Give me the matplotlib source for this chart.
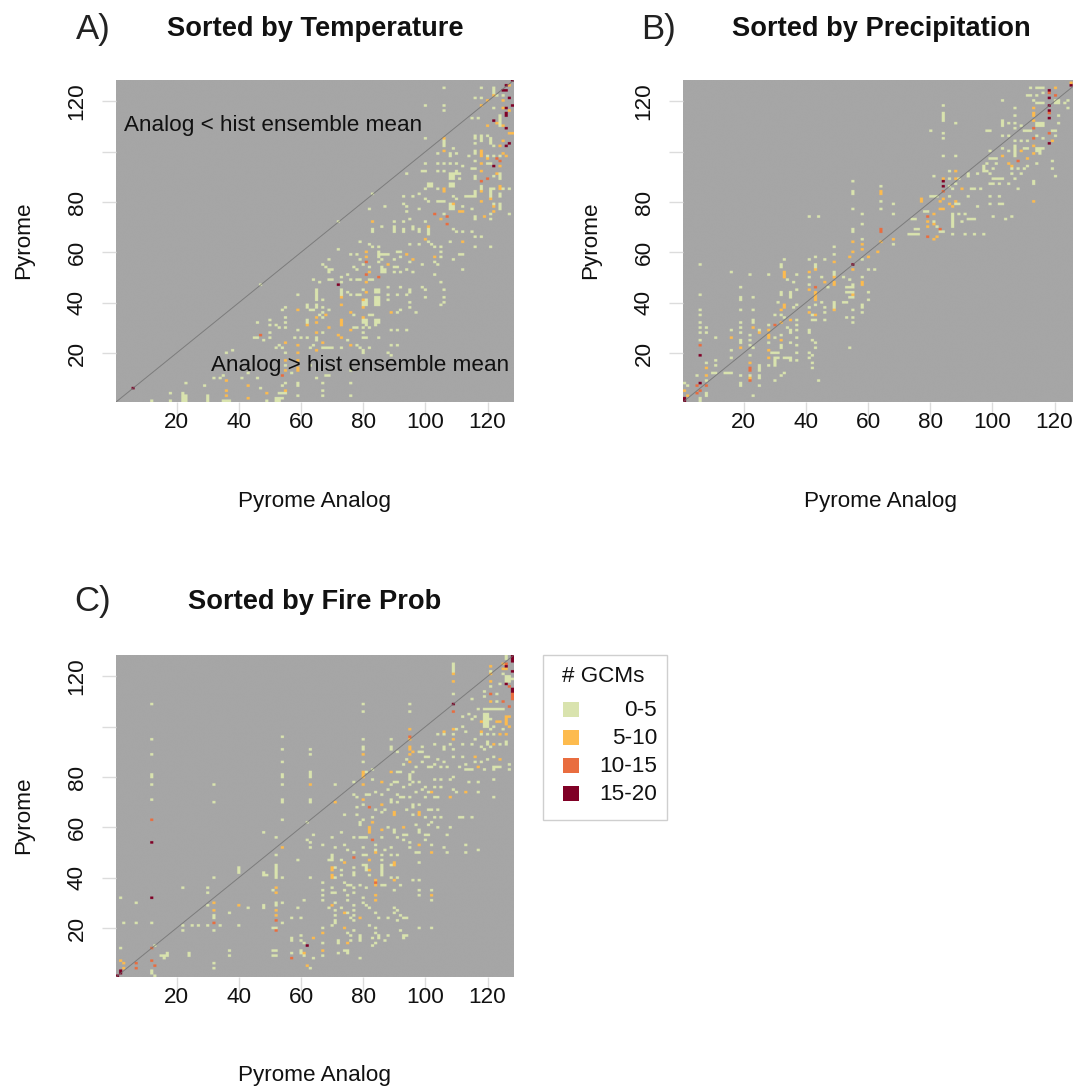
import numpy as np
import matplotlib
matplotlib.use("Agg")
import matplotlib.pyplot as plt
from matplotlib.colors import ListedColormap
from matplotlib.patches import Rectangle

plt.rcParams['font.family'] = ['Liberation Sans', 'DejaVu Sans']

# cells are (pyrome analog, pyrome), one list per class of # GCMs
a_pale = [(106,125),(118,125),(122,125),(122,124),(122,123),(123,122),(125,122),(116,121),(118,121),(100,118),(106,118),(106,116),
    (122,117),(124,114),(124,113),(124,112),(124,111),(124,110),(115,113),(117,113),(116,106),(116,105),(118,106),(118,105),(118,104),
    (120,106),(106,104),(106,103),(106,102),(100,105),(121,105),(121,104),(121,103),(122,102),(116,103),(109,101),(104,99),(108,99),
    (108,98),(110,99),(114,98),(116,100),(116,99),(120,98),(122,98),(124,98),(100,95),(104,95),(106,95),(108,95),(110,95),(112,94),
    (116,96),(120,95),(121,95),(99,92),(100,92),(104,92),(106,92),(94,91),(108,91),(109,91),(108,90),(109,90),(108,89),(109,89),(110,91),
    (111,91),(110,92),(115,93),(116,93),(124,91),(124,90),(124,89),(122,90),(116,90),(116,89),(111,89),(101,87),(102,87),(101,86),(102,86),
    (100,85),(104,85),(108,87),(109,87),(108,86),(109,86),(122,85),(116,84),(116,83),(116,82),(118,86),(118,85),(121,85),(121,84),(121,83),
    (121,82),(125,85),(127,85),(124,83),(124,82),(98,83),(96,82),(93,82),(83,83),(100,81),(101,80),(104,80),(105,80),(106,80),(109,82),
    (113,82),(114,82),(115,82),(110,81),(122,79),(124,79),(124,78),(124,77),(93,79),(94,78),(94,76),(87,78),(82,77),(98,77),(108,79),
    (108,78),(109,78),(108,77),(109,77),(112,78),(115,77),(127,75),(121,75),(106,75),(116,74),(116,73),(121,73),(72,72),(90,72),(95,73),
    (93,72),(100,72),(86,70),(83,69),(83,68),(90,70),(90,69),(90,68),(93,69),(93,68),(96,70),(96,69),(98,69),(98,68),(101,70),(101,69),
    (101,68),(101,67),(109,69),(110,68),(112,68),(115,68),(116,66),(118,66),
    (79,64),(82,63),(83,62),(85,62),(85,59),(86,59),(87,59),(88,59),(91,60),(92,60),(95,63),(98,63),(101,64),(102,63),(103,62),(105,62),
    (105,60),(105,58),(109,57),(111,59),(112,59),(116,62),(121,62),(108,64),(72,61),(76,59),(78,59),(79,57),(85,60),(85,58),(85,56),(86,57),
    (90,57),(92,58),(95,56),(99,55),(103,56),(104,55),(67,55),(69,57),(68,54),(69,53),(69,52),(70,53),(77,54),(78,53),(80,55),(82,54),
    (86,54),(87,53),(86,53),(86,52),(87,52),(90,54),(91,54),(90,52),(94,53),(92,52),(96,52),(103,51),(112,53),(75,51),(73,50),(64,49),(66,48),
    (69,49),(70,49),(73,48),(76,49),(78,49),(79,49),(82,49),(83,49),(88,46),(92,46),(99,46),(100,45),(105,48),(106,45),(65,45),(65,44),
    (73,45),(73,44),(73,43),(75,44),(76,43),(78,43),(79,43),(80,45),(84,45),(85,45),(84,44),(85,44),(88,43),(91,43),(94,43),(95,45),(95,44),
    (100,42),(106,42),(80,40),(81,40),(81,41),(80,39),(81,39),(84,42),(85,42),(84,41),(85,41),(84,40),(85,40),(85,39),(84,39),(88,41),(67,41),
    (65,41),(62,39),(65,39),(67,38),(92,37),(91,36),(95,40),(95,38),(97,36),(106,40),(105,39),(63,37),(64,37),(65,38),(69,37),(67,36),(77,35),
    (67,34),(62,33),(62,32),(80,33),(81,33),(80,32),(81,32),(81,31),(84,33),(85,33),(84,32),(85,32),(84,31),(82,35),(83,35),(77,30),(78,30),
    (80,30),(82,30),(80,28),(89,29),(91,29),(94,29),(67,28),(62,26),(60,26),(65,26),(65,25),(75,25),(80,26),(81,26),(85,26),(78,23),(79,22),
    (80,21),(80,20),(82,22),(73,22),(67,22),(69,22),(70,22),(88,20),(89,19),(89,23),(91,23),(76,13),(68,11),(69,11),(67,8),(65,10),(67,5),
    (67,3),(76,8),(76,3),
    (12,1),(18,4),(18,1),(22,4),(22,3),(23,3),(22,2),(23,2),(22,1),(23,1),(30,3),(30,2),(30,1),(29,7),(23,8),(36,20),(38,21),(32,10),(34,10),
    (35,11),(35,1),(36,1),(37,1),(41,10),(43,12),(46,10),(47,6),(47,47),(49,1),(46,32),(50,33),(50,31),(52,31),(53,30),(55,30),(54,37),(55,38),
    (55,34),(55,32),(50,28),(45,26),(46,26),(48,25),(50,26),(52,22),(53,23),(54,22),(55,20),(55,15),(55,8),(54,7),(52,2),(53,2),(54,2),(52,1),
    (53,1),(53,4),(54,4),(55,4),(59,43),(57,12),(59,8),(59,7),(59,3),(63,15),(63,22),(64,23),(68,22),(66,48),(64,49),(58,26),(59,29),(63,37),
    (64,37),(65,43),(65,42),(62,38),(66,35)]
a_orange = [(127,126),(122,122),(120,120),(125,120),(118,118),(125,117),(127,116),(123,111),(120,110),(125,110),(127,107),(128,107),
    (106,105),(125,104),(124,102),(106,100),(118,100),(118,99),(118,98),(125,99),(126,98),(120,97),(118,95),(124,94),(118,92),(123,91),
    (106,85),(106,84),(124,86),(124,85),(118,84),(109,79),(118,80),(121,81),(122,78),(111,76),(112,76),(122,76),(119,74),(105,73),(83,72),
    (101,70),(103,58),(81,60),(88,55),(94,59),(96,57),(81,58),(100,65),(112,64),(82,52),(81,48),(81,44),(73,42),(80,41),(73,39),(80,38),(89,36),
    (76,36),(68,35),(65,34),(65,32),(73,33),(73,32),(73,31),(62,31),(80,34),(69,30),(65,28),(76,29),(72,27),(73,26),(67,24),(76,23),(65,21),
    (36,9),(36,5),(36,3),(43,7),(43,2),(49,4),(55,24),(55,17),(55,13),(55,5),(59,37),(59,23),(59,20),(59,17),(59,14),(59,13),(65,34)]
a_red = [(103,75),(107,74),(107,71),(123,97),(124,96),(120,89),(118,88),(81,56),(81,51),(85,50),(47,27),(54,11)]
a_dark = [(128,128),(126,126),(125,124),(126,124),(127,121),(128,118),(126,117),(126,115),(126,114),(122,112),(126,109),(127,103),(126,102),
    (122,94),(72,47),(6,6)]

b_pale = [(55,88),(55,84),(55,83),(55,77),(58,75),(58,71),(55,69),(55,68),(58,65),(64,86),(64,80),(64,77),(41,74),(44,74),
    (1,8),(2,7),(5,11),(6,55),(6,43),(6,37),(6,35),(6,32),(6,30),(6,28),(6,25),(6,2),(6,1),(8,30),(8,28),(8,16),(8,9),(8,4),(8,3),(11,26),(11,17),
    (11,15),(10,12),(11,12),(14,12),(15,12),(16,12),(16,52),(16,29),(16,21),(16,18),(19,46),(19,42),(19,41),(19,37),(19,32),(19,30),(19,28),
    (19,25),(19,24),(19,11),(19,8),(19,7),(22,51),(23,42),(23,37),(23,33),(23,32),(22,27),(22,25),(22,23),(23,22),(22,19),(22,11),(23,3),
    (25,29),(25,15),(25,14),(25,13),(25,11),(25,10),(25,7),(28,51),(28,31),(28,24),(28,15),(30,35),(29,20),(30,20),(31,20),(30,18),(30,17),
    (30,16),(30,15),(31,18),(30,9),(32,11),(33,12),(31,40),(32,44),(32,43),(32,35),(33,34),(32,27),(32,23),(32,22),(30,26),(34,30),(35,44),
    (35,43),(35,42),(36,38),(37,39),(35,29),(35,28),(37,33),(37,31),(37,29),(37,26),(37,23),(35,24),(37,20),(37,17),(35,17),(33,18),(34,18),
    (35,18),(32,55),(32,54),(33,57),(34,49),(37,51),(36,48),(37,45),(41,57),(43,58),(43,55),(43,54),(41,50),(41,47),(41,38),(43,39),(45,40),
    (46,38),(46,36),(42,35),(42,33),(43,33),(46,33),(41,29),(41,28),(42,25),(43,24),(43,22),(41,20),(42,19),(41,18),(42,16),(42,14),(44,9),
    (45,50),(46,57),(49,62),(49,59),(49,52),(49,51),(47,46),(49,40),(49,39),(49,38),(52,50),(54,49),(55,47),(53,46),(54,46),(55,46),(53,44),
    (54,44),(55,44),(54,42),(55,42),(52,40),(53,40),(53,34),(55,37),(55,34),(55,32),(54,22),(58,63),(58,57),(58,50),(60,53),(62,53),(60,44),
    (60,41),(58,39),(58,38),(58,36),
    (114,125),(115,125),(112,125),(116,125),(111,122),(112,122),(113,120),(114,122),(116,123),(114,119),(115,119),(116,119),(120,120),(121,120),
    (120,119),(121,119),(123,119),(124,120),(124,117),(121,114),(114,111),(115,111),(116,111),(114,110),(115,110),(116,110),(121,111),(110,108),
    (111,108),(112,108),(114,106),(116,105),(119,108),(120,108),(120,106),(103,120),(107,117),(107,114),(103,112),(103,111),(103,110),(105,111),
    (107,111),(107,109),(109,110),(98,108),(99,108),(103,106),(105,106),(107,104),(109,104),(111,104),(110,101),(111,101),(114,101),(115,101),
    (114,100),(115,100),(116,101),(115,99),(107,102),(107,101),(107,100),(105,100),(103,101),(99,100),(107,99),(107,98),(100,97),(101,97),(99,97),
    (114,95),(119,96),(119,93),(120,90),(98,95),(101,95),(97,94),(97,93),(97,92),(98,92),(100,93),(99,91),(106,93),(106,91),(108,93),(110,93),
    (111,94),(113,88),(113,87),(109,91),(107,89),(103,89),(100,89),(101,89),(102,89),(99,87),(100,87),(102,87),(105,87),(95,91),(92,91),(92,90),
    (93,85),(94,85),(96,85),(108,85),(89,89),(88,87),(86,92),(86,89),(86,86),(87,85),(81,90),(84,118),(84,115),(84,114),(84,113),(84,112),
    (88,111),(80,108),(84,107),(84,105),(84,98),(88,98),
    (80,82),(81,82),(82,82),(86,82),(88,79),(89,79),(92,82),(99,82),(102,82),(103,79),(102,79),(99,79),(113,80),(95,78),(78,76),(79,76),(68,79),
    (64,80),(64,77),(68,75),(64,86),(89,75),(87,75),(87,74),(87,73),(87,72),(87,71),(87,70),(91,75),(90,72),(92,73),(93,73),(94,73),(74,73),
    (75,73),(81,72),(82,70),(83,68),(84,68),(75,69),(76,69),(76,67),(73,67),(74,67),(75,67),(100,74),(104,73),(106,74),(87,67),(91,67),(94,67),
    (97,67),(68,63)]
b_orange = [(55,64),(58,63),(64,84),(1,5),(2,3),(8,14),(8,11),(16,26),(19,22),(23,30),(25,28),(22,16),(22,10),(28,29),(28,27),(28,26),(28,21),(28,18),
    (33,39),(33,38),(32,37),(32,32),(32,25),(35,33),(33,52),(33,51),(33,50),(43,53),(41,52),(41,45),(43,44),(43,43),(43,42),(43,41),(41,36),(43,35),
    (46,48),(49,56),(49,50),(49,48),(49,47),(49,37),(55,64),(55,60),(54,58),(55,53),(55,43),(58,61),(60,58),(58,48),(58,47),(63,60),
    (125,127),(120,125),(113,117),(113,115),(113,114),(113,112),(119,104),(113,102),(113,99),(109,100),(103,98),(105,95),(106,94),(111,97),
    (90,85),(88,92),(88,89),(84,89),(77,81),(77,80),(84,81),(83,80),(88,80),(86,79),(87,78),(83,77),(84,77),(113,80),(81,75),(79,72),(79,70),(81,71),
    (81,65),(82,66),(64,64),(68,65),(64,83)]
b_red = [(6,23),(6,5),(5,7),(5,4),(8,7),(22,14),(22,13),(22,9),(30,31),(43,46),(118,123),(120,122),(118,115),(118,107),(113,109),(113,105),(108,96),
    (84,84),(79,74),(83,69),(79,66),(64,69),(64,68)]
b_dark = [(1,2),(1,1),(6,19),(6,8),(55,55),(125,126),(118,124),(118,121),(118,118),(118,116),(118,113),(118,103),(84,88),(84,86)]

c_pale = [(12,109),(12,95),(12,89),(12,81),(12,80),(12,77),(12,71),(32,77),(32,70),(54,96),(54,91),(54,86),(54,81),(54,80),(54,77),(54,71),(54,70),
    (54,63),(63,91),(63,89),(63,82),(63,81),(63,80),(63,71),(63,70),
    (109,125),(109,124),(109,123),(109,122),(109,113),(106,97),(109,97),(108,93),(109,91),(106,92),(106,91),(103,93),(104,97),(110,99),(112,104),
    (112,100),(112,93),(113,98),(114,105),(115,111),(115,103),(116,104),(117,107),(118,102),(116,95),(115,93),(118,92),(119,114),(119,112),(121,122),
    (121,116),(123,113),(124,117),(119,107),(120,107),(121,107),(122,107),(123,107),(124,107),(125,107),(119,105),(120,105),(119,104),(120,104),
    (119,103),(120,103),(119,102),(120,102),(119,101),(120,101),(119,100),(120,100),(121,103),(122,100),(121,99),(125,99),(118,97),(120,97),(122,97),
    (120,94),(120,93),(124,93),(126,94),(126,93),(119,91),(121,92),(123,110),(126,128),(126,127),(128,119),(126,120),(127,120),(126,119),(127,119),
    (126,118),(127,118),(125,121),
    (80,109),(80,106),(95,109),(95,106),(94,87),(93,85),(97,84),(99,92),(98,90),(99,90),(100,88),(101,88),(99,86),(89,95),(89,92),(89,91),(91,90),
    (80,95),(80,92),(80,91),(80,86),(83,83),(81,82),(77,78),(71,77),(83,79),(91,82),(92,82),(90,78),(91,78),(89,77),(95,81),(95,80),(95,79),(96,82),
    (93,76),(95,77),(96,78),(98,78),(100,76),(103,79),(105,79),(108,79),(109,80),(101,84),(102,84),(103,85),(104,87),(105,84),(106,86),(107,84),
    (109,88),(112,88),(111,84),(113,85),(113,83),(114,83),(115,83),(116,86),(118,86),(119,83),(120,87),(122,88),(122,84),(123,84),(124,84),(122,83),
    (127,85),(127,83),(122,79),(114,78),(109,75),(110,74),(117,78),(117,74),(122,72),(99,75),(101,74),(103,72),(104,72),(105,76),(103,76),(100,72),
    (97,74),(81,73),(82,73),(77,73),(78,72),(84,74),(86,73),(88,75),(89,71),(89,70),(91,73),(92,72),(93,72),(95,72),(91,70),(80,69),(78,68),(87,67),
    (84,67),(94,67),(96,69),(96,68),(98,69),(101,67),(102,67),(104,67),(74,65),(78,65),(80,63),(86,66),(96,65),(100,64),(103,64),(105,64),(111,64),
    (112,64),(115,64),
    (2,32),(7,30),(3,22),(7,22),(12,22),(2,12),(13,13),(12,3),(12,2),(13,1),(15,9),(16,9),(16,8),(17,10),(17,9),(22,36),(22,21),(22,19),(24,10),(24,9),
    (25,21),(27,21),(30,36),(30,34),(30,29),(30,21),(32,40),(32,25),(32,24),(32,19),(34,21),(37,26),(37,11),(37,9),(32,6),(32,4),(40,44),(40,43),
    (40,42),(43,28),(40,21),(48,58),(48,42),(48,41),(49,41),(48,29),(48,28),(52,56),(54,63),(52,49),(52,45),(52,44),(52,43),(52,42),(52,41),(52,40),
    (54,40),(51,35),(52,30),(52,29),(54,30),(54,22),(51,20),(52,20),(51,11),(52,11),(51,9),(52,9),(57,24),(60,24),(59,47),(62,62),(64,57),(62,55),
    (63,54),(63,52),(63,40),(61,31),(59,28),(57,16),(57,15),(60,17),(60,15),(61,14),(60,11),(60,10),(57,10),(61,9),(64,8),(63,4),
    (79,62),(79,61),(83,64),(88,60),(90,59),(90,58),(98,59),(98,58),(97,61),(101,61),(102,62),(104,60),(108,60),(107,57),(100,57),(101,57),(93,57),
    (94,57),(79,56),(80,56),(81,56),(77,56),(73,58),(70,56),(86,56),(91,56),(93,55),(100,55),(95,54),(67,53),(71,52),(74,53),(75,51),(80,52),(84,53),
    (84,51),(87,51),(89,52),(86,49),(89,49),(91,49),(95,52),(97,50),(98,50),(102,53),(106,52),(107,50),(113,53),(113,50),(117,51),(77,50),(70,49),
    (70,48),(70,47),(69,47),(73,47),(80,49),(81,49),(86,47),(89,45),(98,46),(71,44),(71,40),(73,43),(73,41),(77,44),(77,42),(77,41),(80,45),(81,45),
    (81,44),(81,43),(82,41),(86,45),(86,44),(86,43),(86,42),(86,41),(89,40),(91,40),(74,38),(67,38),(75,37),(76,37),(77,36),(79,37),(81,36),(86,37),
    (87,37),(92,37),(96,39),(98,39),(70,36),(70,34),(71,34),(67,35),(67,33),(74,35),(75,33),(77,34),(67,31),(75,31),(80,32),(80,30),(81,29),(82,28),
    (90,35),(98,35),(98,33),(102,35),(102,31),(71,30),(69,28),(73,28),(71,27),(77,29),(77,27),(75,26),(71,25),(77,25),(76,24),(77,23),(84,26),(85,24),
    (88,24),(90,28),(91,27),(90,26),(92,25),(93,24),(94,24),(91,23),(71,23),(71,22),(70,21),(67,20),(75,18),(77,19),(76,17),(79,17),(79,16),(79,15),
    (82,21),(84,20),(84,18),(85,17),(85,16),(88,17),(83,16),(84,14),(83,13),(87,15),(92,19),(93,17),(94,17),(93,16),(98,20),(102,20),(67,14),(72,15),
    (72,14),(76,15),(67,9),(72,10),(74,11),(75,11),(75,10),(79,8)]
c_orange = [(63,77),(109,121),(109,118),(109,99),(106,98),(109,95),(118,98),(121,124),(121,121),(121,118),(121,110),(118,102),(123,102),(124,102),
    (126,104),(126,103),(126,102),(126,101),(127,104),(127,100),(124,97),(126,97),(122,93),(125,125),(125,123),(126,123),(80,89),(95,99),(95,95),
    (95,92),(95,91),(96,90),(95,89),(95,86),(80,82),(80,81),(80,80),(80,77),(86,78),(89,82),(71,70),(116,88),(117,84),(124,87),(113,74),(102,74),
    (108,72),(80,71),(86,69),(90,66),(90,65),(98,66),(98,65),(32,30),(32,27),(40,29),(2,7),(3,6),(3,4),(52,36),(52,34),(52,27),(52,25),(54,52),
    (64,16),(61,10),(62,5),(82,60),(82,59),(82,58),(83,62),(86,59),(93,60),(84,50),(98,53),(102,50),(74,46),(82,47),(90,46),(90,45),(70,44),(70,43),
    (70,41),(70,40),(82,43),(90,39),(84,39),(84,37),(84,33),(84,31),(102,33),(70,29),(74,26),(79,24),(67,18),(74,20),(75,14),(67,11)]
c_red = [(12,63),(95,96),(109,106),(121,113),(125,110),(127,108),(128,113),(128,112),(128,111),(127,116),(126,125),(82,68),(32,22),(12,12),(7,6),(7,4),
    (12,7),(13,5),(52,23),(52,19),(57,8),(83,55),(77,48),(84,38)]
c_dark = [(109,109),(128,122),(128,128),(128,127),(128,126),(126,124),(126,117),(128,115),(128,114),(12,54),(12,32),(2,3),(2,2),(1,1),(62,13)]

panel_titles = ["Sorted by Temperature", "Sorted by Precipitation", "Sorted by Fire Prob"]
panel_letters = ["A)", "B)", "C)"]
tick_values = [20, 40, 60, 80, 100, 120]
y_tick_labels = ["20", "40", "60", "80", "", "120"]
legend_labels = ["0-5", "5-10", "10-15", "15-20"]
colors = ["#A6A6A6", "#D9E3AE", "#FDBB4E", "#E96D3F", "#800026"]

W, H = 1073, 1086
LABEL_SIZE = 16.2
fig = plt.figure(figsize=(W / 100, H / 100), dpi=100)
cmap = ListedColormap(colors)


def px_axes(left, top, right, bottom):
    return fig.add_axes([left / W, 1 - bottom / H, (right - left) / W, (bottom - top) / H])


def draw_panel(left, top, levels, title, letter, title_x, letter_x, title_y):
    ax = px_axes(left, top, left + 398, top + 322)
    grid = np.zeros((128, 128))
    for level, cells in enumerate(levels, start=1):
        for x, y in cells:
            grid[y - 1, x - 1] = level
    # repeat the cells so the resampling softens their edges but keeps their size
    fine = np.repeat(np.repeat(grid, 8, axis=0), 8, axis=1)
    ax.imshow(fine, cmap=cmap, vmin=0, vmax=4, origin="lower", extent=[0.5, 128.5, 0.5, 128.5], aspect="auto",
              interpolation="hanning", interpolation_stage="rgba")
    ax.plot([0.5, 128.5], [0.5, 128.5], color="#6e6e6e", lw=0.7, alpha=0.75)
    ax.set_xlim(0.5, 128.5)
    ax.set_ylim(0.5, 128.5)
    for s in ax.spines.values():
        s.set_visible(False)
    ax.set_xticks(tick_values)
    ax.set_yticks(tick_values)
    ax.set_xticklabels([str(v) for v in tick_values], fontsize=LABEL_SIZE, color="#111111")
    ax.set_yticklabels(y_tick_labels, fontsize=LABEL_SIZE, rotation=90, ha="center", va="baseline",
                       rotation_mode="anchor", color="#111111")
    ax.tick_params(axis="x", length=10, width=1, color="#dcdcdc", pad=-3)
    ax.tick_params(axis="y", length=10, width=1, color="#dcdcdc", pad=14)
    fig.text((left + 198) / W, 1 - (top + 421) / H, "Pyrome Analog", fontsize=LABEL_SIZE, ha="center", va="center", color="#111111")
    fig.text((left - 92) / W, 1 - (top + 160) / H, "Pyrome", fontsize=LABEL_SIZE, rotation=90, ha="center", va="center", color="#111111")
    fig.text(title_x / W, 1 - (title_y + 2) / H, title, fontsize=19.6, fontweight="bold", ha="center", va="center", color="#111111")
    fig.text(letter_x / W, 1 - (title_y + 2) / H, letter, fontsize=25, ha="center", va="center", color="#222222")
    return ax


ax_a = draw_panel(116, 80, [a_pale, a_orange, a_red, a_dark], panel_titles[0], panel_letters[0], 315, 93, 27)
draw_panel(683, 80, [b_pale, b_orange, b_red, b_dark], panel_titles[1], panel_letters[1], 881, 659, 27)
draw_panel(116, 655, [c_pale, c_orange, c_red, c_dark], panel_titles[2], panel_letters[2], 315, 93, 600)

ax_a.text(3, 110.5, "Analog < hist ensemble mean", fontsize=LABEL_SIZE, va="center", color="#111111")
ax_a.text(127, 15, "Analog > hist ensemble mean", fontsize=LABEL_SIZE, ha="right", va="center", color="#111111")

# legend, placed by hand in pixels
fig.add_artist(Rectangle((543 / W, 1 - 820 / H), 124 / W, 165 / H, transform=fig.transFigure,
                         fc="white", ec="#cfcfcf", lw=1))
fig.text(603 / W, 1 - 677 / H, "# GCMs", fontsize=LABEL_SIZE, ha="center", va="center", color="#111111")
for i, lab in enumerate(legend_labels):
    y_px = 702 + i * 28
    fig.add_artist(Rectangle((563 / W, 1 - (y_px + 15) / H), 16 / W, 15 / H, transform=fig.transFigure,
                             fc=colors[i + 1], ec="none"))
    fig.text(657 / W, 1 - (y_px + 8) / H, lab, fontsize=LABEL_SIZE, ha="right", va="center", color="#111111")

fig.savefig("out.png", dpi=100)
